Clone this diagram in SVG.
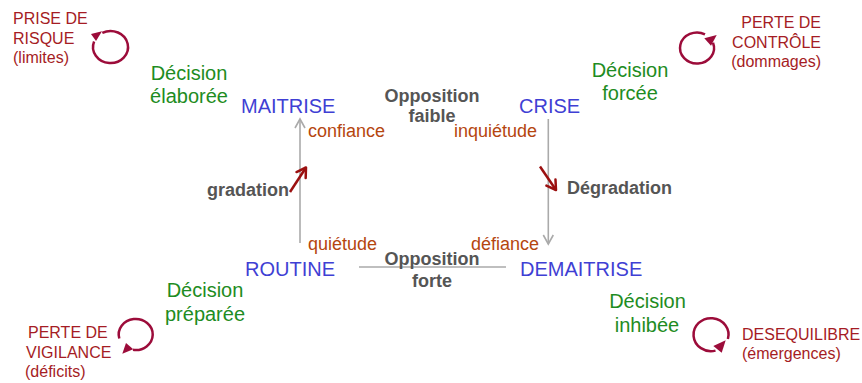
<svg xmlns="http://www.w3.org/2000/svg" width="862" height="383" viewBox="0 0 862 383">
<defs>
<style>
text{font-family:"Liberation Sans",Arial,sans-serif}
.st{fill:#3f3fd4;font-size:20px}
.dec{fill:#1e8c22;font-size:20px;text-anchor:middle}
.emo{fill:#b5460f;font-size:18px}
.op{fill:#555;font-size:18px;font-weight:bold}
.mid{text-anchor:middle}
.risk{fill:#a51c24;font-size:16px}
.grey{stroke:#aaa;stroke-width:1.6;fill:none}
.red{stroke:#9b1010;stroke-width:2.5;fill:none}
.loop{stroke:#9c0c3a;stroke-width:2.5;fill:none}
.head{fill:#9c0c3a}
</style>
<marker id="ga" markerUnits="userSpaceOnUse" markerWidth="14" markerHeight="14" viewBox="-12 -7 14 14" refX="0" refY="0" orient="auto">
<path d="M-9,-5 L0,0 L-9,5" fill="none" stroke="#aaa" stroke-width="1.6"/>
</marker>
<marker id="ra" markerUnits="userSpaceOnUse" markerWidth="16" markerHeight="16" viewBox="-13 -8 16 16" refX="0" refY="0" orient="auto">
<path d="M-9,-5.5 L0,0 L-9,5.5" fill="none" stroke="#9b1010" stroke-width="2.5" stroke-linecap="round" stroke-linejoin="round"/>
</marker>
</defs>

<g id="connectors">
<line class="grey" x1="300" y1="243" x2="300" y2="119" marker-end="url(#ga)"/>
<line class="grey" x1="548.3" y1="119" x2="548.3" y2="244" marker-end="url(#ga)"/>
<line class="grey" x1="359" y1="267" x2="506" y2="267"/>
<line class="red" x1="290" y1="192" x2="306" y2="167.5" marker-end="url(#ra)"/>
<line class="red" x1="540" y1="166.5" x2="556" y2="190" marker-end="url(#ra)"/>
</g>

<g id="maitrise"><text class="st" x="241" y="113">MAITRISE</text></g>
<g id="crise"><text class="st" x="519" y="113">CRISE</text></g>
<g id="routine"><text class="st" x="245" y="275.5">ROUTINE</text></g>
<g id="demaitrise"><text class="st" x="520" y="275.5">DEMAITRISE</text></g>

<g id="labels-emotion">
<text class="emo" x="308" y="137">confiance</text>
<text class="emo" x="454" y="137">inquiétude</text>
<text class="emo" x="308" y="250">quiétude</text>
<text class="emo" x="471" y="250">défiance</text>
</g>

<g id="opposition-faible"><text class="op mid" x="432" y="102">Opposition</text><text class="op mid" x="432" y="122">faible</text></g>
<g id="opposition-forte"><text class="op mid" x="432" y="265">Opposition</text><text class="op mid" x="432" y="286.5">forte</text></g>
<g id="gradation"><text class="op" x="207" y="195.5">gradation</text></g>
<g id="degradation"><text class="op" x="567" y="194">Dégradation</text></g>

<g id="decision-elaboree"><text class="dec" x="189" y="80">Décision</text><text class="dec" x="189" y="103">élaborée</text></g>
<g id="decision-forcee"><text class="dec" x="630" y="77">Décision</text><text class="dec" x="630" y="100">forcée</text></g>
<g id="decision-preparee"><text class="dec" x="205" y="297">Décision</text><text class="dec" x="205" y="321">préparée</text></g>
<g id="decision-inhibee"><text class="dec" x="647.5" y="308">Décision</text><text class="dec" x="647" y="332">inhibée</text></g>

<g id="prise-de-risque">
<text class="risk" x="13" y="24">PRISE DE</text>
<text class="risk" x="13" y="44">RISQUE</text>
<text class="risk" x="13" y="63">(limites)</text>
<path class="loop" d="M94.1 41.5 A17.5 16 0 1 0 102.3 32.9"/>
<polygon class="head" points="91,34 102,31.3 96,41"/>
</g>

<g id="perte-de-controle">
<text class="risk" x="821" y="28" text-anchor="end">PERTE DE</text>
<text class="risk" x="821" y="48" text-anchor="end">CONTRÔLE</text>
<text class="risk" x="821" y="67" text-anchor="end">(dommages)</text>
<path class="loop" d="M713 42.7 A17 15.5 0 1 1 705 34.3"/>
<polygon class="head" points="716.7,35 704.3,38.3 711,45.7"/>
</g>

<g id="perte-de-vigilance">
<text class="risk" x="28" y="338">PERTE DE</text>
<text class="risk" x="26" y="358">VIGILANCE</text>
<text class="risk" x="25" y="377">(déficits)</text>
<path class="loop" d="M133 349.8 A17 15.5 0 1 0 119.3 338.5"/>
<polygon class="head" points="122.3,353.7 126,343 133.3,349.3"/>
</g>

<g id="desequilibre">
<text class="risk" x="742" y="340">DESEQUILIBRE</text>
<text class="risk" x="742" y="359">(émergences)</text>
<path class="loop" d="M727.9 339 A17.5 16.5 0 1 0 715.5 350.6"/>
<polygon class="head" points="725.7,340.3 713.3,346 721.7,352.7"/>
</g>
</svg>
